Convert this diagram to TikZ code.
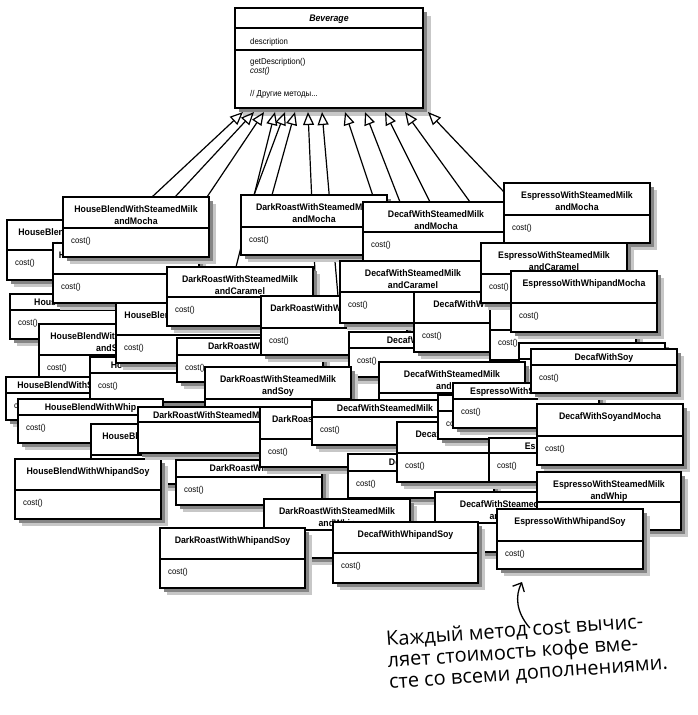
\documentclass[tikz,border=0pt]{standalone}
\usepackage{fontspec}
\newfontfamily\umlfont[FakeStretch=0.92]{Liberation Sans}
\newfontfamily\handfont{Open Sans}
\usetikzlibrary{arrows.meta}
\pgfdeclarelayer{bottom}
\pgfdeclarelayer{links}
\pgfsetlayers{bottom,links,main}
\tikzset{
    classbox/.style={
           rectangle,
           draw=black, line width=1.1pt,
           fill=white,
           inner sep=0pt, outer sep=0pt,
           anchor=north west,
           },
    shadow outer/.style={fill=black!22},
    shadow inner/.style={fill=black!48},
    classname/.style={font=\umlfont\bfseries\fontsize{9.5}{12.5}\selectfont,
           align=center, inner sep=0pt, anchor=north},
    method/.style={font=\umlfont\fontsize{8.5}{9}\selectfont, inner sep=0pt, anchor=west},
    inherit/.style={line width=1.2pt, -{Triangle[open, length=13pt, width=11pt]}},
    note/.style={font=\handfont\fontsize{20}{21.5}\selectfont, align=left, inner sep=0pt, rotate=4},
}

% one class: name, left, top, right, bottom, divider, class name, method
\newcommand{\classbox}[8]{%
  \fill[shadow outer] ({#2+7},{#3+7}) rectangle ({#4+7},{#5+7});
  \fill[shadow inner] ({#2+3.5},{#3+3.5}) rectangle ({#4+3.5},{#5+3.5});
  \node[classbox, minimum width={#4-#2}, minimum height={#5-#3}] (#1) at (#2,#3) {};
  \draw[line width=1.1pt] (#2,#6) -- (#4,#6);
  \pgfmathsetmacro{\nameoff}{ifthenelse(#6-#3<24,4.5,8)}
  \node[classname] (#1-name) at ({(#2+#4)/2},{#3+\nameoff}) {#7};
  \node[method] (#1-op) at ({#2+8},{#6+13.5}) {#8};
}

\begin{document}
\begin{tikzpicture}[x=1pt,y=-1pt]

 % superclass at the top
 \begin{pgfonlayer}{bottom}
 \path[use as bounding box, fill=white] (0,0) rectangle (697,715);
 \fill[shadow outer] (243,16) rectangle (431,116);
 \fill[shadow inner] (239,12) rectangle (427,112);
 \node[classbox, minimum width=188, minimum height=100] (beverage) at (235,8) {};
 \draw[line width=1.1pt] ([yshift=-20pt]beverage.north west) -- ([yshift=-20pt]beverage.north east);
 \draw[line width=1.1pt] ([yshift=-42pt]beverage.north west) -- ([yshift=-42pt]beverage.north east);
 \node[classname, font=\umlfont\bfseries\itshape\fontsize{9.5}{12.5}\selectfont]
   (beverage-name) at ([yshift=-6.5pt]beverage.north) {Beverage};
 \node[method] (beverage-attr) at ([xshift=15pt,yshift=-34pt]beverage.north west) {description};
 \node[method] (beverage-get) at ([xshift=15pt,yshift=-54pt]beverage.north west) {getDescription()};
 \node[method, font=\umlfont\itshape\fontsize{8.5}{9}\selectfont]
   (beverage-cost) at ([xshift=15pt,yshift=-63pt]beverage.north west) {cost()};
 \node[method] (beverage-more) at ([xshift=15pt,yshift=-86pt]beverage.north west) {// Другие методы...};
 \end{pgfonlayer}

 % arrow tips under Beverage
 \coordinate (in1) at (243,112);
 \coordinate (in2) at (254,112);
 \coordinate (in3) at (264,112);
 \coordinate (in4) at (275,112);
 \coordinate (in5) at (285,112);
 \coordinate (in6) at (295,112);
 \coordinate (in7) at (308,112);
 \coordinate (in8) at (322,112);
 \coordinate (in9) at (345,112);
 \coordinate (in10) at (365,112);
 \coordinate (in11) at (385,112);
 \coordinate (in12) at (405,112);
 \coordinate (in13) at (428,112);

 % HouseBlend pile
 \classbox{hbcaramel}{7}{220}{153}{280}{250}{HouseBlendWithSteamedMilk\\andCaramel}{cost()}
 \classbox{hbmochaonly}{10}{294}{156}{339}{310}{HouseBlendWithMocha}{cost()}
 \classbox{hbwhipmocha}{53}{243}{199}{303}{274}{HouseBlendWithWhipandMocha}{cost()}
 \classbox{hbmocha}{63}{197}{209}{257}{228}{HouseBlendWithSteamedMilk\\andMocha}{cost()}
 \classbox{hbsoy}{39}{324}{185}{384}{355}{HouseBlendWithSteamedMilk\\andSoy}{cost()}
 \classbox{hbsteamed}{6}{377}{152}{420}{393}{HouseBlendWithSteamedMilk}{cost()}
 \classbox{hbcaramelonly}{90}{357}{236}{402}{373}{HouseBlendWithCaramel}{cost()}
 \classbox{hbsoymocha}{116}{303}{262}{363}{335}{HouseBlendWithSoyandMocha}{cost()}
 \classbox{hbwhip}{18}{399}{163}{443}{415}{HouseBlendWithWhip}{cost()}
 \classbox{hbsteamedwhip}{91}{424}{237}{484}{455}{HouseBlendWithSteamedMilk\\andWhip}{}
 \classbox{hbwhipsoy}{15}{459}{161}{519}{490}{HouseBlendWithWhipandSoy}{cost()}

 % top row and the middle of the pile
 \classbox{drmocha}{241}{195}{387}{255}{227}{DarkRoastWithSteamedMilk\\andMocha}{cost()}
 \classbox{decafmocha}{363}{202}{509}{261}{232}{DecafWithSteamedMilk\\andMocha}{cost()}
 \classbox{espmocha}{504}{183}{650}{243}{215}{EspressoWithSteamedMilk\\andMocha}{cost()}
 \classbox{drcaramel}{167}{267}{313}{326}{297}{DarkRoastWithSteamedMilk\\andCaramel}{cost()}
 \classbox{drwhip}{177}{338}{323}{382}{355}{DarkRoastWithWhip}{cost()}
 \classbox{drwhipmocha}{261}{296}{407}{355}{328}{DarkRoastWithWhipandMocha}{cost()}
 \classbox{decafcaramel}{340}{261}{486}{323}{292}{DecafWithSteamedMilk\\andCaramel}{cost()}
 \classbox{decafmochaonly}{349}{332}{495}{377}{348}{DecafWithMocha}{cost()}
 \classbox{decafwhipmocha}{414}{292}{560}{352}{323}{DecafWithWhipandMocha}{cost()}
 \classbox{espmochaonly}{490}{293}{636}{360}{330}{}{cost()}
 \classbox{espcaramel}{481}{243}{627}{303}{274}{EspressoWithSteamedMilk\\andCaramel}{cost()}
 \classbox{espwhipmocha}{511}{271}{657}{332}{303}{EspressoWithWhipandMocha}{cost()}
 \classbox{espwhip}{519}{343}{665}{387}{359}{}{}
 \classbox{decafsteamedsoy}{379}{362}{525}{422}{393}{DecafWithSteamedMilk\\andSoy}{}
 \classbox{drsteamedsoy}{205}{367}{351}{426}{399}{DarkRoastWithSteamedMilk\\andSoy}{}
 \classbox{drsteamed}{138}{407}{284}{453}{422}{DarkRoastWithSteamedMilk}{}
 \classbox{drsoy}{176}{460}{322}{505}{477}{DarkRoastWithSoy}{cost()}
 \classbox{drsoymocha}{260}{407}{406}{467}{439}{DarkRoastWithSoyandMocha}{cost()}
 \classbox{decafwhip}{348}{454}{494}{498}{471}{DecafWithWhip}{cost()}
 \classbox{decafsteamed}{312}{400}{458}{445}{417}{DecafWithSteamedMilk}{cost()}
 \classbox{decafsoycaramel}{397}{422}{543}{482}{453}{DecafWithSoyandCaramel}{cost()}
 \classbox{espcaramelonly}{438}{395}{584}{439}{411}{}{cost()}
 \classbox{espsteamed}{453}{383}{599}{428}{399}{EspressoWithSteamedMilk}{cost()}
 \classbox{decafsoy}{531}{349}{677}{393}{365}{DecafWithSoy}{cost()}
 \classbox{espsoy}{489}{438}{635}{482}{453}{EspressoWithSoy}{cost()}
 \classbox{decafsoymocha}{537}{404}{683}{465}{436}{DecafWithSoyandMocha}{cost()}

 % bottom of the pile
 \classbox{decafsteamedwhip}{435}{492}{581}{552}{523}{DecafWithSteamedMilk\\andWhip}{}
 \classbox{espsteamedwhip}{537}{472}{681}{530}{502}{EspressoWithSteamedMilk\\andWhip}{}
 \classbox{drsteamedwhip}{264}{499}{410}{558}{530}{DarkRoastWithSteamedMilk\\andWhip}{}
 \classbox{drwhipsoy}{160}{528}{305}{588}{559}{DarkRoastWithWhipandSoy}{cost()}
 \classbox{decafwhipsoy}{333}{522}{478}{583}{553}{DecafWithWhipandSoy}{cost()}
 \classbox{espwhipsoy}{497}{509}{643}{569}{541}{EspressoWithWhipandSoy}{cost()}

 % inheritance lines, behind the boxes
 \begin{pgfonlayer}{links}
 \path[inherit]
  ([xshift=16pt]hbmocha.north)         edge (in1)
  ([xshift=39pt]hbmocha.north)         edge (in2)
  ([xshift=-2pt]hbmocha.north east)    edge (in3)
  ([xshift=-4pt]drcaramel.north)       edge (in4)
  ([xshift=-60pt]drmocha.north)        edge (in5)
  ([xshift=-42pt]drmocha.north)        edge (in6)
  ([xshift=-18pt]drwhipmocha.north)    edge (in7)
  ([xshift=4pt]drwhipmocha.north)      edge (in8)
  ([xshift=-61pt]decafmocha.north)     edge (in9)
  ([xshift=-36pt]decafmocha.north)     edge (in10)
  ([xshift=-6pt]decafmocha.north)      edge (in11)
  ([xshift=34pt]decafmocha.north)      edge (in12)
  ([yshift=-9pt]espmocha.north west)   edge (in13);
 \end{pgfonlayer}

 % handwritten remark
 \node[note] (note) at (527,652)
  {Каждый метод cost вычис-\\ляет стоимость кофе вме-\\сте со всеми дополнениями.};
 \draw[line width=1.3pt, -{Straight Barb[length=7pt,width=13pt]}]
  ([xshift=5pt,yshift=-7pt]note.north) .. controls (516,612) and (515,596)
  .. ([xshift=-48pt,yshift=-13pt]espwhipsoy.south);

\end{tikzpicture}
\end{document}
